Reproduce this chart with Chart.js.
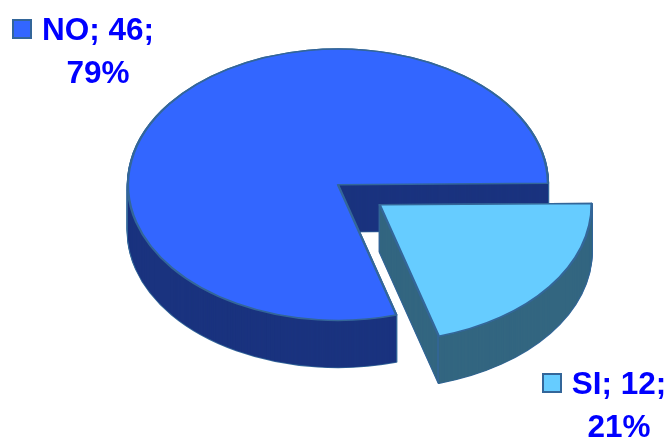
<!DOCTYPE html>
<html>
<head>
<meta charset="utf-8">
<title>NO / SI</title>
<script src="https://cdn.jsdelivr.net/npm/chart.js@4"></script>
<style>
    html, body { margin: 0; padding: 0; background: #ffffff; }
    canvas { display: block; }
</style>
</head>
<body>
<canvas id="pie-chart" width="670" height="437"></canvas>
<script>
const categories = ['NO', 'SI'];
const counts = [46, 12];
const topColors = ['#3366ff', '#66ccff'];
const wallColors = ['#1a337f', '#336680'];
const edgeColor = '#336699';

const total = counts.reduce((a, b) => a + b, 0);

// tilted look: the disc is flattened and then stacked downwards
const squash = 0.646;
const depth = 47;

// legend key and text spot for each slice
const labelSpots = [
    { keyX: 13, keyY: 20, textX: 98, firstLine: 39.5, lineGap: 43 },
    { keyX: 543, keyY: 374, textX: 619, firstLine: 394, lineGap: 43 }
];

function paintArc(ctx, arc, fill, stroke, width) {
    const saved = arc.options;
    arc.options = Object.create(saved, {
        backgroundColor: { value: fill },
        borderColor: { value: stroke },
        borderWidth: { value: width },
        borderJoinStyle: { value: 'round' }
    });
    arc.draw(ctx);
    arc.options = saved;
}

function flatten(ctx, arc, drop) {
    ctx.translate(arc.x, arc.y + drop);
    ctx.scale(1, squash);
    ctx.translate(-arc.x, -arc.y);
}

const solidPie = {
    id: 'solidPie',
    beforeDatasetsDraw(chart) {
        const ctx = chart.ctx;
        chart.getDatasetMeta(0).data.forEach((arc, i) => {
            // outline of the side wall first, then the wall fill over it
            for (let d = depth; d >= 0; d--) {
                ctx.save();
                flatten(ctx, arc, d);
                paintArc(ctx, arc, edgeColor, edgeColor, 2.4);
                ctx.restore();
            }
            for (let d = depth; d >= 0; d--) {
                ctx.save();
                flatten(ctx, arc, d);
                paintArc(ctx, arc, wallColors[i], wallColors[i], 0);
                ctx.restore();
            }
            ctx.save();
            flatten(ctx, arc, 0);
            paintArc(ctx, arc, topColors[i], edgeColor, 2.4);
            ctx.restore();

            // corner line between the cut face and the curved wall
            if (arc.options.offset > 0) {
                const mid = (arc.startAngle + arc.endAngle) / 2;
                const shift = arc.options.offset / 4;
                const px = arc.x + Math.cos(mid) * shift + Math.cos(arc.endAngle) * arc.outerRadius;
                const py = arc.y + (Math.sin(mid) * shift + Math.sin(arc.endAngle) * arc.outerRadius) * squash;
                ctx.save();
                ctx.strokeStyle = edgeColor;
                ctx.lineWidth = 1.5;
                ctx.beginPath();
                ctx.moveTo(px, py);
                ctx.lineTo(px, py + depth);
                ctx.stroke();
                ctx.restore();
            }
        });
        return false;
    },
    afterDraw(chart) {
        const ctx = chart.ctx;
        ctx.save();
        ctx.font = 'bold 31.5px "Liberation Sans", Arial, sans-serif';
        ctx.textAlign = 'center';
        ctx.textBaseline = 'alphabetic';
        categories.forEach((name, i) => {
            const spot = labelSpots[i];
            ctx.fillStyle = topColors[i];
            ctx.strokeStyle = edgeColor;
            ctx.lineWidth = 2;
            ctx.fillRect(spot.keyX, spot.keyY, 18, 18);
            ctx.strokeRect(spot.keyX, spot.keyY, 18, 18);
            ctx.fillStyle = '#0000ff';
            ctx.fillText(name + '; ' + counts[i] + ';', spot.textX, spot.firstLine);
            ctx.fillText(Math.round(counts[i] / total * 100) + '%', spot.textX, spot.firstLine + spot.lineGap);
        });
        ctx.restore();
    }
};

new Chart(document.querySelector('#pie-chart').getContext('2d'), {
    type: 'pie',
    data: {
        labels: categories,
        datasets: [{
            data: counts,
            backgroundColor: topColors,
            borderColor: edgeColor,
            borderWidth: 2,
            offset: [0, 208]
        }]
    },
    options: {
        responsive: false,
        animation: false,
        radius: 210,
        // NO starts where SI ends, SI starts near three o'clock
        rotation: 89.4 + counts[1] / total * 360,
        layout: { padding: { left: 6, bottom: 67.5 } },
        plugins: {
            legend: { display: false },
            tooltip: { enabled: false }
        }
    },
    plugins: [solidPie]
});
</script>
</body>
</html>
